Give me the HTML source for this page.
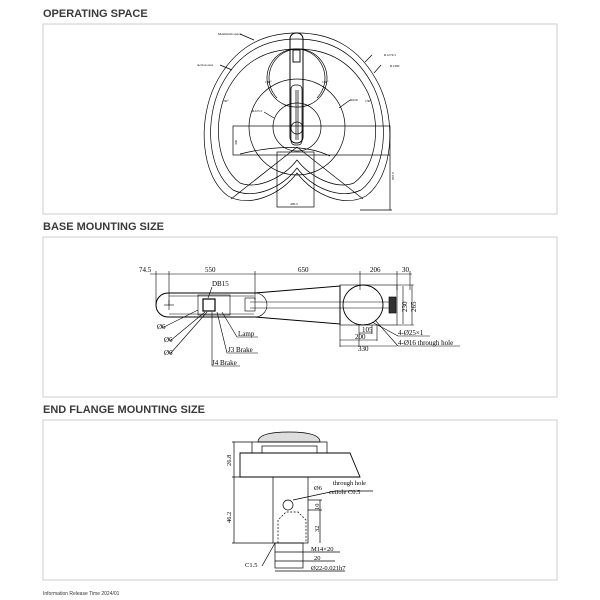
<!DOCTYPE html>
<html><head><meta charset="utf-8"><style>
body{margin:0;background:#fff;width:600px;height:600px;overflow:hidden}
svg{display:block}
.h{font-family:"Liberation Sans",sans-serif;font-weight:bold;font-size:11px;fill:#3a3a3a}
.t{font-family:"Liberation Serif",serif;fill:#000}
</style></head><body>
<svg width="600" height="600" viewBox="0 0 600 600" fill="none" stroke="#000" stroke-width="0.6">
<text class="h" x="43" y="17" stroke="none">OPERATING SPACE</text>
<rect x="43" y="24" width="514" height="190" stroke="#ccc" stroke-width="1"/>
<text class="h" x="43" y="230" stroke="none">BASE MOUNTING SIZE</text>
<rect x="43" y="237" width="514" height="160" stroke="#ccc" stroke-width="1"/>
<text class="h" x="43" y="413" stroke="none">END FLANGE MOUNTING SIZE</text>
<rect x="43" y="420" width="514" height="160" stroke="#ccc" stroke-width="1"/>
<text x="43" y="595" stroke="none" style="font-family:'Liberation Sans',sans-serif;font-size:5px;fill:#333">Information Release Time 2024/01</text>

<!-- Operating space -->
<g stroke-width="0.7">
<path d="M297 173 C280 195 250 208 228 196 C200 175 198 120 215 85 C235 45 265 33 297 33 C329 33 359 45 379 85 C396 120 394 175 366 196 C344 208 314 195 297 173Z"/>
<path d="M297 168 C282 188 254 200 233 190 C207 170 205 120 220 88 C238 51 266 39 297 39 C328 39 356 51 374 88 C389 120 387 170 361 190 C340 200 312 188 297 168Z"/>
<path d="M297 160 C284 177 258 190 240 183 C216 165 213 123 226 93 C242 60 268 49 297 49 C326 49 352 60 368 93 C381 123 378 165 354 183 C336 190 310 177 297 160Z"/>
<circle cx="297" cy="127" r="48"/>
<circle cx="297" cy="127" r="24"/>
<path d="M277 98 A29 29 0 1 1 297 107"/>
<path d="M317 98 A29 29 0 1 0 297 107"/>
<rect x="233" y="126" width="157" height="29"/>
<rect x="277" y="152" width="37" height="55"/>
<line x1="297" y1="147" x2="231" y2="199"/><line x1="297" y1="147" x2="363" y2="199"/>
<path d="M240 154 Q297 140 330 156"/>
<line x1="390" y1="155" x2="390" y2="210"/><line x1="360" y1="210" x2="392" y2="210"/>
<rect x="290" y="33" width="13" height="110" rx="6" stroke-width="1"/>
<rect x="293" y="50" width="7" height="12" stroke-width="0.9"/>
<rect x="291" y="85" width="11" height="60" rx="4"/>
<line x1="296" y1="90" x2="296" y2="140"/><line x1="298" y1="90" x2="298" y2="140"/>
<circle cx="297" cy="128" r="6"/>
<line x1="240" y1="34" x2="254" y2="40"/><line x1="220" y1="65" x2="232" y2="70"/>
<line x1="372" y1="55" x2="365" y2="62"/><line x1="381" y1="65" x2="374" y2="73"/>
<line x1="350" y1="100" x2="339" y2="108"/><line x1="264" y1="112" x2="274" y2="118"/>
</g>
<g class="t" stroke="none" font-size="3.5">
<text x="218" y="35">Maximum space</text><text x="197" y="66">Action area</text>
<text x="384" y="56">R1274.5</text><text x="390" y="67">R1300</text>
<text x="265" y="83">130°</text><text x="322" y="83">130°</text>
<text x="222" y="102">130°</text><text x="365" y="102">130°</text>
<text x="350" y="101">R620</text><text x="252" y="112">R225.5</text>
<text x="290" y="205">400.5</text>
<text x="237" y="145" transform="rotate(-90 237 145)">300</text>
<text x="394" y="180" transform="rotate(-90 394 180)">867.8</text>
</g>

<!-- Base mounting -->
<g stroke-width="0.6">
<line x1="150" y1="274" x2="412" y2="274"/>
<line x1="156" y1="271" x2="156" y2="305"/><line x1="169" y1="271" x2="169" y2="305"/>
<line x1="255" y1="271" x2="255" y2="300"/><line x1="360" y1="271" x2="360" y2="290"/>
<line x1="397" y1="271" x2="397" y2="290"/><line x1="410" y1="271" x2="410" y2="290"/>
<path d="M168 293 L255 293 L340 286 L340 324 L255 317 L168 317 A12 12 0 0 1 168 293Z" stroke-width="1"/>
<path d="M169 296 L254 296 M169 314 L254 314"/>
<path d="M255 293 A12 12 0 0 1 255 317"/>
<rect x="340" y="285" width="57" height="40"/>
<circle cx="363" cy="305" r="20" stroke-width="0.9"/>
<line x1="250" y1="302" x2="390" y2="302"/><line x1="250" y1="308" x2="390" y2="308"/>
<rect x="245" y="298" width="10" height="13"/>
<rect x="389" y="297" width="7" height="16" fill="#333"/>
<rect x="198" y="295" width="32" height="20"/>
<rect x="203" y="299" width="12" height="12" stroke-width="1.2"/>
<line x1="169" y1="300" x2="169" y2="310"/><line x1="164" y1="305" x2="174" y2="305"/>
<line x1="403" y1="286" x2="403" y2="324"/><line x1="412" y1="285" x2="412" y2="325"/>
<line x1="397" y1="285" x2="414" y2="285"/><line x1="397" y1="325" x2="414" y2="325"/>
<line x1="359" y1="325" x2="359" y2="347"/><line x1="372" y1="325" x2="372" y2="334"/>
<line x1="340" y1="325" x2="340" y2="347"/><line x1="377" y1="325" x2="377" y2="341"/>
<line x1="359" y1="333" x2="372" y2="333"/><line x1="340" y1="340" x2="377" y2="340"/><line x1="340" y1="346" x2="397" y2="346"/>
<line x1="372" y1="322" x2="398" y2="336"/><line x1="375" y1="320" x2="398" y2="346"/>
<line x1="398" y1="336" x2="430" y2="336"/><line x1="398" y1="346" x2="460" y2="346"/>
<line x1="198" y1="310" x2="162" y2="328"/><line x1="205" y1="312" x2="170" y2="341"/><line x1="207" y1="312" x2="170" y2="354"/>
<line x1="222" y1="312" x2="237" y2="337"/><line x1="237" y1="337" x2="258" y2="337"/>
<line x1="217" y1="312" x2="227" y2="353"/><line x1="227" y1="353" x2="258" y2="353"/>
<line x1="212" y1="312" x2="212" y2="366"/><line x1="212" y1="366" x2="240" y2="366"/>
<line x1="212" y1="287" x2="208" y2="298"/>
</g>
<g class="t" stroke="none" font-size="7">
<text x="139" y="272">74.5</text><text x="205" y="272">550</text><text x="298" y="272">650</text>
<text x="370" y="272">206</text><text x="402" y="272">30</text>
<text x="212" y="286">DB15</text>
<text x="157" y="329">Ø6</text><text x="164" y="342">Ø6</text><text x="164" y="355">Ø6</text>
<text x="238" y="336">Lamp</text><text x="228" y="352">J3 Brake</text><text x="212" y="365">J4 Brake</text>
<text x="362" y="332">105</text><text x="355" y="339">200</text><text x="358" y="351">330</text>
<text x="398" y="335">4-Ø25×1</text><text x="398" y="345">4-Ø16 through hole</text>
<text x="407" y="312" transform="rotate(-90 407 312)">230</text>
<text x="416" y="312" transform="rotate(-90 416 312)">265</text>
</g>

<!-- End flange -->
<g stroke-width="0.7">
<path d="M258 442 Q258 432 289 432 Q320 432 320 442 Z" fill="#ddd"/>
<rect x="252" y="442" width="75" height="11"/>
<rect x="262" y="446" width="55" height="7"/>
<path d="M240 453 L350 453 Q355 465 360 477 L240 477 Z" stroke-width="0.9"/>
<rect x="273" y="477" width="35" height="66"/>
<rect x="275" y="543" width="28" height="25"/>
<circle cx="288" cy="505" r="5"/>
<path d="M278 543 L278 520 L286 512 L298 512 L306 520 L306 543" stroke-dasharray="2 1.5"/>
<line x1="232" y1="442" x2="252" y2="442"/><line x1="232" y1="477" x2="273" y2="477"/><line x1="232" y1="543" x2="273" y2="543"/>
<line x1="234" y1="442" x2="234" y2="543"/>
<line x1="308" y1="500" x2="322" y2="500"/><line x1="308" y1="510" x2="322" y2="510"/><line x1="320" y1="500" x2="320" y2="543"/>
<line x1="293" y1="500" x2="335" y2="491"/><line x1="335" y1="491" x2="373" y2="491"/>
<line x1="275" y1="552" x2="340" y2="552"/><line x1="275" y1="561" x2="335" y2="561"/><line x1="275" y1="571" x2="345" y2="571"/>
<line x1="275" y1="543" x2="262" y2="566"/>
</g>
<g class="t" stroke="none" font-size="6.5">
<text x="231" y="466" transform="rotate(-90 231 466)">26.8</text>
<text x="231" y="523" transform="rotate(-90 231 523)">46.2</text>
<text x="314" y="490">Ø6</text><text x="333" y="485">through hole</text><text x="329" y="494">cetiole C0.5</text>
<text x="319" y="510" transform="rotate(-90 319 510)">10</text>
<text x="319" y="532" transform="rotate(-90 319 532)">32</text>
<text x="311" y="551">M14×20</text><text x="314" y="560">20</text><text x="311" y="570">Ø22-0.021h7</text>
<text x="245" y="567">C1.5</text>
</g>
</svg>
</body></html>
